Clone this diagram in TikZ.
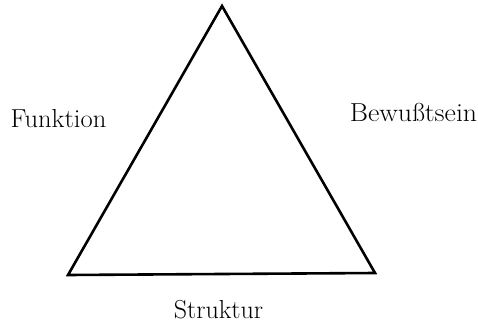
\documentclass[tikz,border=0pt]{standalone}
\usepackage{fontspec}
\setmainfont{Latin Modern Roman}
\begin{document}
\begin{tikzpicture}[x=1pt,y=-1pt,
  lbl/.style={anchor=base,inner sep=0pt,font=\fontsize{26}{30}\selectfont},
  edge/.style={line width=2.6pt,line join=miter}]
\useasboundingbox (0,0) rectangle (478,329);
\coordinate (top) at (222,6);
\coordinate (bl) at (68,275);
\coordinate (br) at (375,273);
\draw[edge] (top) -- (bl) -- (br) -- cycle;
\node[lbl,xscale=1.02] (f) at (58.5,127) {Funktion};
\node[lbl,xscale=1.07] (b) at (413.5,121) {Bewußtsein};
\node[lbl] (s) at (218.5,318) {Struktur};
\end{tikzpicture}
\end{document}
